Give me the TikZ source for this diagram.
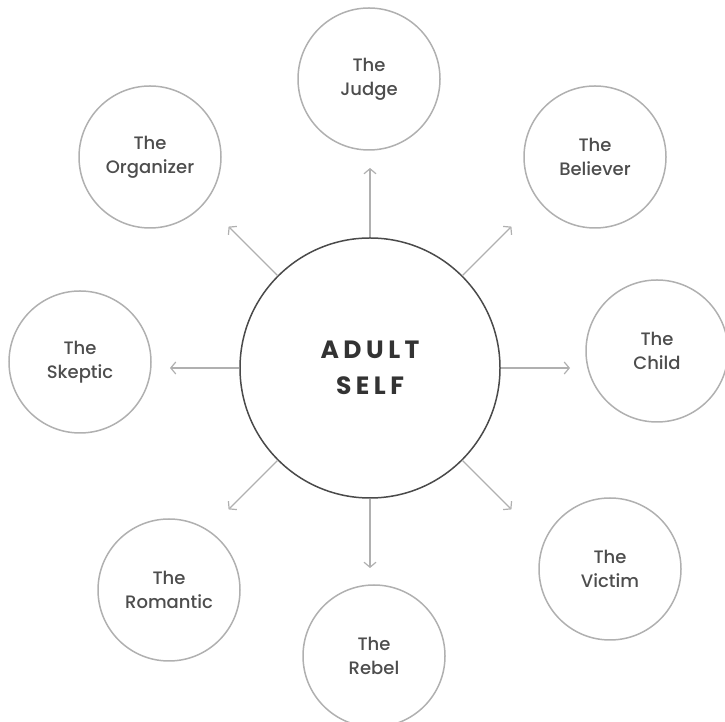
\documentclass[tikz,border=0pt]{standalone}
\usepackage{fontspec}
\setmainfont{Poppins Medium}
\newfontfamily\selffont[LetterSpace=18]{Poppins}
\usetikzlibrary{arrows.meta,calc}
\definecolor{ring}{HTML}{B0B0B0}
\definecolor{selfring}{HTML}{4A4A4A}
\definecolor{label}{HTML}{4D4D4D}
\begin{document}
\begin{tikzpicture}[x=1pt,y=1pt,
    part/.style={circle,draw=ring,line width=1.5pt,minimum size=142pt,inner sep=0pt,
                 align=center,text=label,font=\fontsize{18}{24}\selectfont},
    arr/.style={draw=ring,line width=1.2pt,-{Straight Barb[length=5pt,width=12pt]}}]
    \useasboundingbox (0,0) rectangle (725,722);
    \node[circle,draw=selfring,line width=1.5pt,minimum size=260pt,align=center,text=black!80,
          font=\selffont\bfseries\fontsize{25}{36}\selectfont] (adult) at (370,354) {ADULT\\SELF};
    \node[part] (judge) at (369,643) {The\\Judge};
    \node[part] (believer) at (595,565) {The\\Believer};
    \node[part] (child) at (657,371) {The\\Child};
    \node[part] (victim) at (610,153) {The\\Victim};
    \node[part] (rebel) at (374,66) {The\\Rebel};
    \node[part] (romantic) at (169,132) {The\\Romantic};
    \node[part] (skeptic) at (80,360) {The\\Skeptic};
    \node[part] (organizer) at (150,565) {The\\Organizer};
    \foreach \a/\n in {90/judge,45/believer,0/child,-45/victim,-90/rebel,-135/romantic,180/skeptic,135/organizer}{
        \coordinate (\n tip) at ($(adult.center)+(\a:200)$);
        \draw[arr] (adult) -- (\n tip);
    }
\end{tikzpicture}
\end{document}
